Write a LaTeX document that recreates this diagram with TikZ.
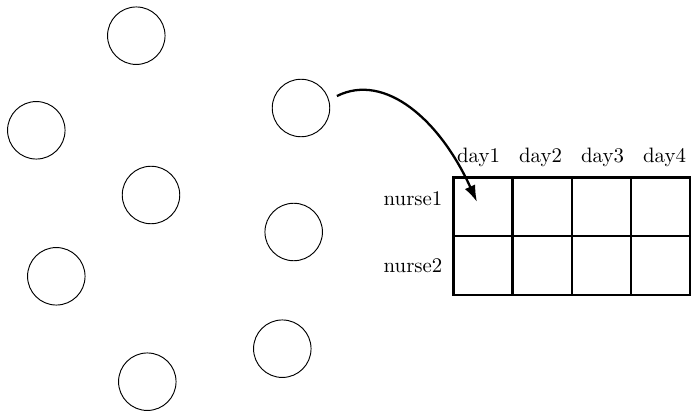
\documentclass[tikz,border=0pt]{standalone}
\usetikzlibrary{arrows.meta}
\begin{document}
\begin{tikzpicture}[x=0.48pt,y=-0.48pt,
  ball/.style={circle,draw,line width=0.45pt,minimum size=27.6pt,inner sep=0pt},
  cell/.style={rectangle,draw,line width=1.1pt,minimum width=28.37pt,minimum height=28.13pt,inner sep=0pt},
  lbl/.style={inner sep=0pt,font=\normalsize}]
\useasboundingbox (0,0) rectangle (691,411);
\node[ball] (c1) at (136.3,35.7) {};
\node[ball] (c2) at (36.3,130.3) {};
\node[ball] (c3) at (301,108) {};
\node[ball] (c4) at (151,195) {};
\node[ball] (c5) at (293.7,232) {};
\node[ball] (c6) at (56.3,276.3) {};
\node[ball] (c7) at (282.3,348.7) {};
\node[ball] (c8) at (147.3,381.7) {};
% grid
\foreach \i in {1,2,3,4}{
  \node[cell] (r1c\i) at ({453.5+29.55+59.1*(\i-1)},206.8) {};
  \node[cell] (r2c\i) at ({453.5+29.55+59.1*(\i-1)},265.4) {};
}
\foreach \i in {1,2,3,4}{
  \node[lbl] (d\i) at ({478.5+62*(\i-1)},157) {day\i};
}
\node[lbl] (n1) at (413,199) {nurse1};
\node[lbl] (n2) at (413,266) {nurse2};
\draw[line width=1.1pt,-{Latex[length=8pt,width=5.5pt]},shorten <=4.2pt] (c3.16)
  .. controls (385,72) and (440,120) .. (477,202);
\end{tikzpicture}
\end{document}
